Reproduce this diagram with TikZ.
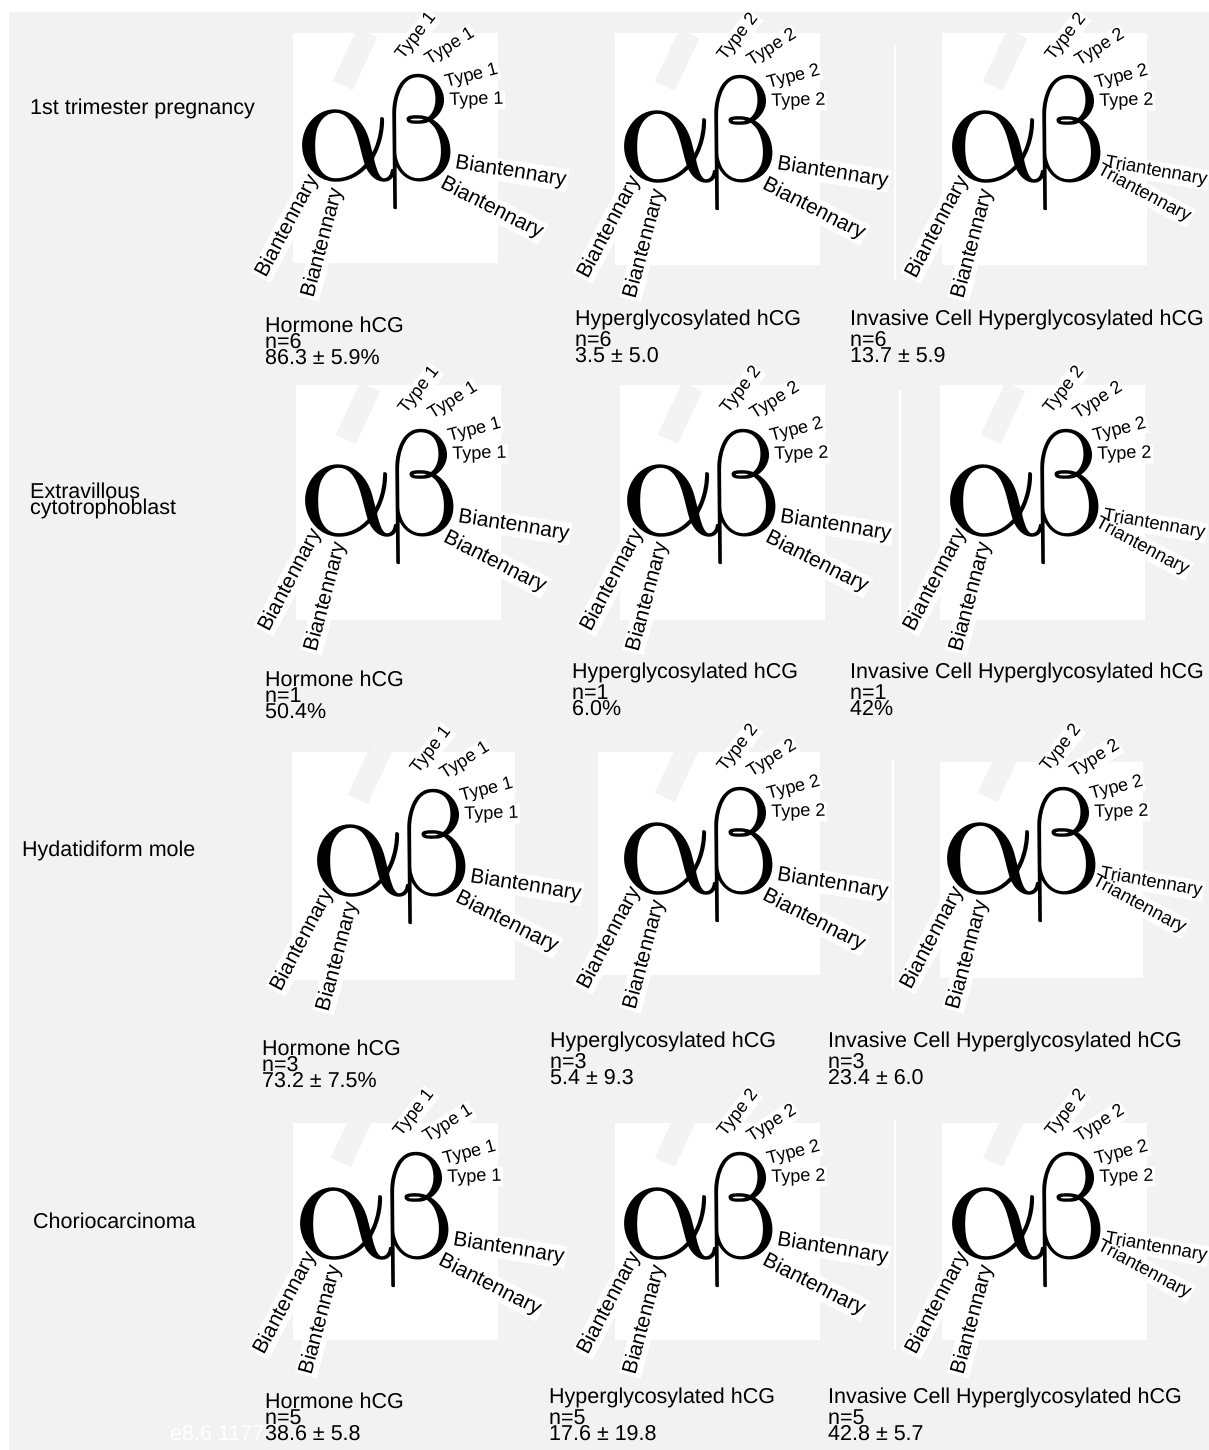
\documentclass[tikz,border=0pt]{standalone}
\usepackage{fontspec}
\setmainfont{Liberation Sans}
\definecolor{bggray}{HTML}{F2F2F2}
\definecolor{bandgray}{HTML}{F3F3F3}
\newif\ifbgpass
\tikzset{
  caption/.style={font=\fontsize{21.5}{16}\selectfont, align=left, anchor=base west, inner sep=0pt},
  abstyle/.style={font=\fontsize{10}{10}\selectfont, anchor=base west, inner sep=0pt, transform shape, xslant=-0.25, scale=16},
  pass/.style={},
  typ/.style={font=\fontsize{18}{18}\selectfont, anchor=base west, inner sep=1.5pt, pass},
  bian/.style={font=\fontsize{21}{21}\selectfont, anchor=base west, inner sep=1.5pt, pass},
  tri/.style={font=\fontsize{18.5}{18.5}\selectfont, anchor=base west, inner sep=1.5pt, pass},
  whitebox/.style={fill=white, draw=none},
  whiteline/.style={draw=white, line width=2pt},
  ghostband/.style={fill=bandgray, draw=none, inner sep=0pt, minimum width=58pt, minimum height=22pt},
  ghost/.style={text=white, font=\fontsize{21.5}{21.5}\selectfont, anchor=base west, inner sep=0pt},
}
% #1 name prefix, #2 x, #3 y, #4 type text, #5 1 = triantennary
\newcommand{\abcluster}[5]{%
\begin{scope}[shift={(#2,#3)}]
 \ifbgpass
 \node[ghostband, rotate=65] (#1band) at (50,-122) {};
 \fi
 \ifnum#5=1
   \node[tri, rotate=-10] (#1r1) at (148,-15) {Triantennary};
   \node[tri, rotate=-28] (#1r2) at (140,-9) {Triantennary};
 \else
   \node[bian, rotate=-9] (#1r1) at (148,-13) {Biantennary};
   \node[bian, rotate=-27] (#1r2) at (133,6) {Biantennary};
 \fi
 \node[bian, rotate=62] (#1l1) at (-40,99) {Biantennary};
 \node[bian, rotate=75] (#1l2) at (8,119) {Biantennary};
 \node[typ, rotate=52] (#1t1) at (97,-119) {#4};
 \node[typ, rotate=32] (#1t2) at (123,-115) {#4};
 \node[typ, rotate=15] (#1t3) at (140,-93) {#4};
 \node[typ, rotate=2] (#1t4) at (143,-75) {#4};
 \ifbgpass\else
 \node[abstyle] (#1ab) at (0,0) {\kern-0.3pt$\alpha$\kern-1.5pt\scalebox{0.9}[0.94]{$\beta$}};
 \fi
\end{scope}}
\newcommand{\allclusters}[1]{%
 \abcluster{#1a}{305}{181}{Type 1}{0}
 \abcluster{#1b}{627}{182}{Type 2}{0}
 \abcluster{#1c}{955}{182}{Type 2}{1}
 \abcluster{#1d}{308}{535}{Type 1}{0}
 \abcluster{#1e}{630}{535}{Type 2}{0}
 \abcluster{#1f}{953}{535}{Type 2}{1}
 \abcluster{#1g}{320}{895}{Type 1}{0}
 \abcluster{#1h}{627}{893}{Type 2}{0}
 \abcluster{#1i}{950}{893}{Type 2}{1}
 \abcluster{#1j}{303}{1258}{Type 1}{0}
 \abcluster{#1k}{627}{1258}{Type 2}{0}
 \abcluster{#1l}{955}{1258}{Type 2}{1}
}
\begin{document}
\begin{tikzpicture}[x=1pt,y=-1pt]
\useasboundingbox (0,0) rectangle (1209,1450);
\fill[white] (0,0) rectangle (1209,1450);
\fill[bggray] (9,12) rectangle (1209,1450);
% white panels
\foreach \xa/\ya/\xb/\yb in {293/33/498/263, 615/33/820/265, 942/33/1147/265,
  296/385/501/620, 620/385/825/620, 940/385/1145/620,
  292/752/515/980, 598/752/820/975, 940/762/1143/978,
  293/1123/498/1340, 615/1123/820/1340, 942/1123/1147/1340}
  \fill[whitebox] (\xa,\ya) rectangle (\xb,\yb);
\draw[whiteline] (895,45) -- (895,280);
\draw[whiteline] (900,390) -- (900,620);
\draw[whiteline] (893,760) -- (893,990);
\draw[whiteline] (895,1120) -- (895,1350);
% label backgrounds
\bgpasstrue
\tikzset{pass/.style={fill=white, text=white}}
\allclusters{bg}
% labels and glyphs
\bgpassfalse
\tikzset{pass/.style={text=black}}
\allclusters{fg}
% row titles
\node[caption] (row1) at (30,115) {1st trimester pregnancy};
\node[caption] (row2) at (30,514) {Extravillous\\cytotrophoblast};
\node[caption] (row3) at (22,856) {Hydatidiform mole};
\node[caption] (row4) at (33,1228) {Choriocarcinoma};
% captions (anchor = last line baseline)
\node[caption] (c11) at (265,364) {Hormone hCG\\n=6\\86.3 ± 5.9\%};
\node[caption] (c12) at (575,362) {Hyperglycosylated hCG\\n=6\\3.5 ± 5.0};
\node[caption] (c13) at (850,362) {Invasive Cell Hyperglycosylated hCG\\n=6\\13.7 ± 5.9};
\node[caption] (c21) at (265,718) {Hormone hCG\\n=1\\50.4\%};
\node[caption] (c22) at (572,715) {Hyperglycosylated hCG\\n=1\\6.0\%};
\node[caption] (c23) at (850,715) {Invasive Cell Hyperglycosylated hCG\\n=1\\42\%};
\node[caption] (c31) at (262,1087) {Hormone hCG\\n=3\\73.2 ± 7.5\%};
\node[caption] (c32) at (550,1084) {Hyperglycosylated hCG\\n=3\\5.4 ± 9.3};
\node[caption] (c33) at (828,1084) {Invasive Cell Hyperglycosylated hCG\\n=3\\23.4 ± 6.0};
\node[caption] (c41) at (265,1440) {Hormone hCG\\n=5\\38.6 ± 5.8};
\node[caption] (c42) at (549,1440) {Hyperglycosylated hCG\\n=5\\17.6 ± 19.8};
\node[caption] (c43) at (828,1440) {Invasive Cell Hyperglycosylated hCG\\n=5\\42.8 ± 5.7};
\node[ghost] (ghosttext) at (170,1440) {e8.6 1177};
\end{tikzpicture}
\end{document}
